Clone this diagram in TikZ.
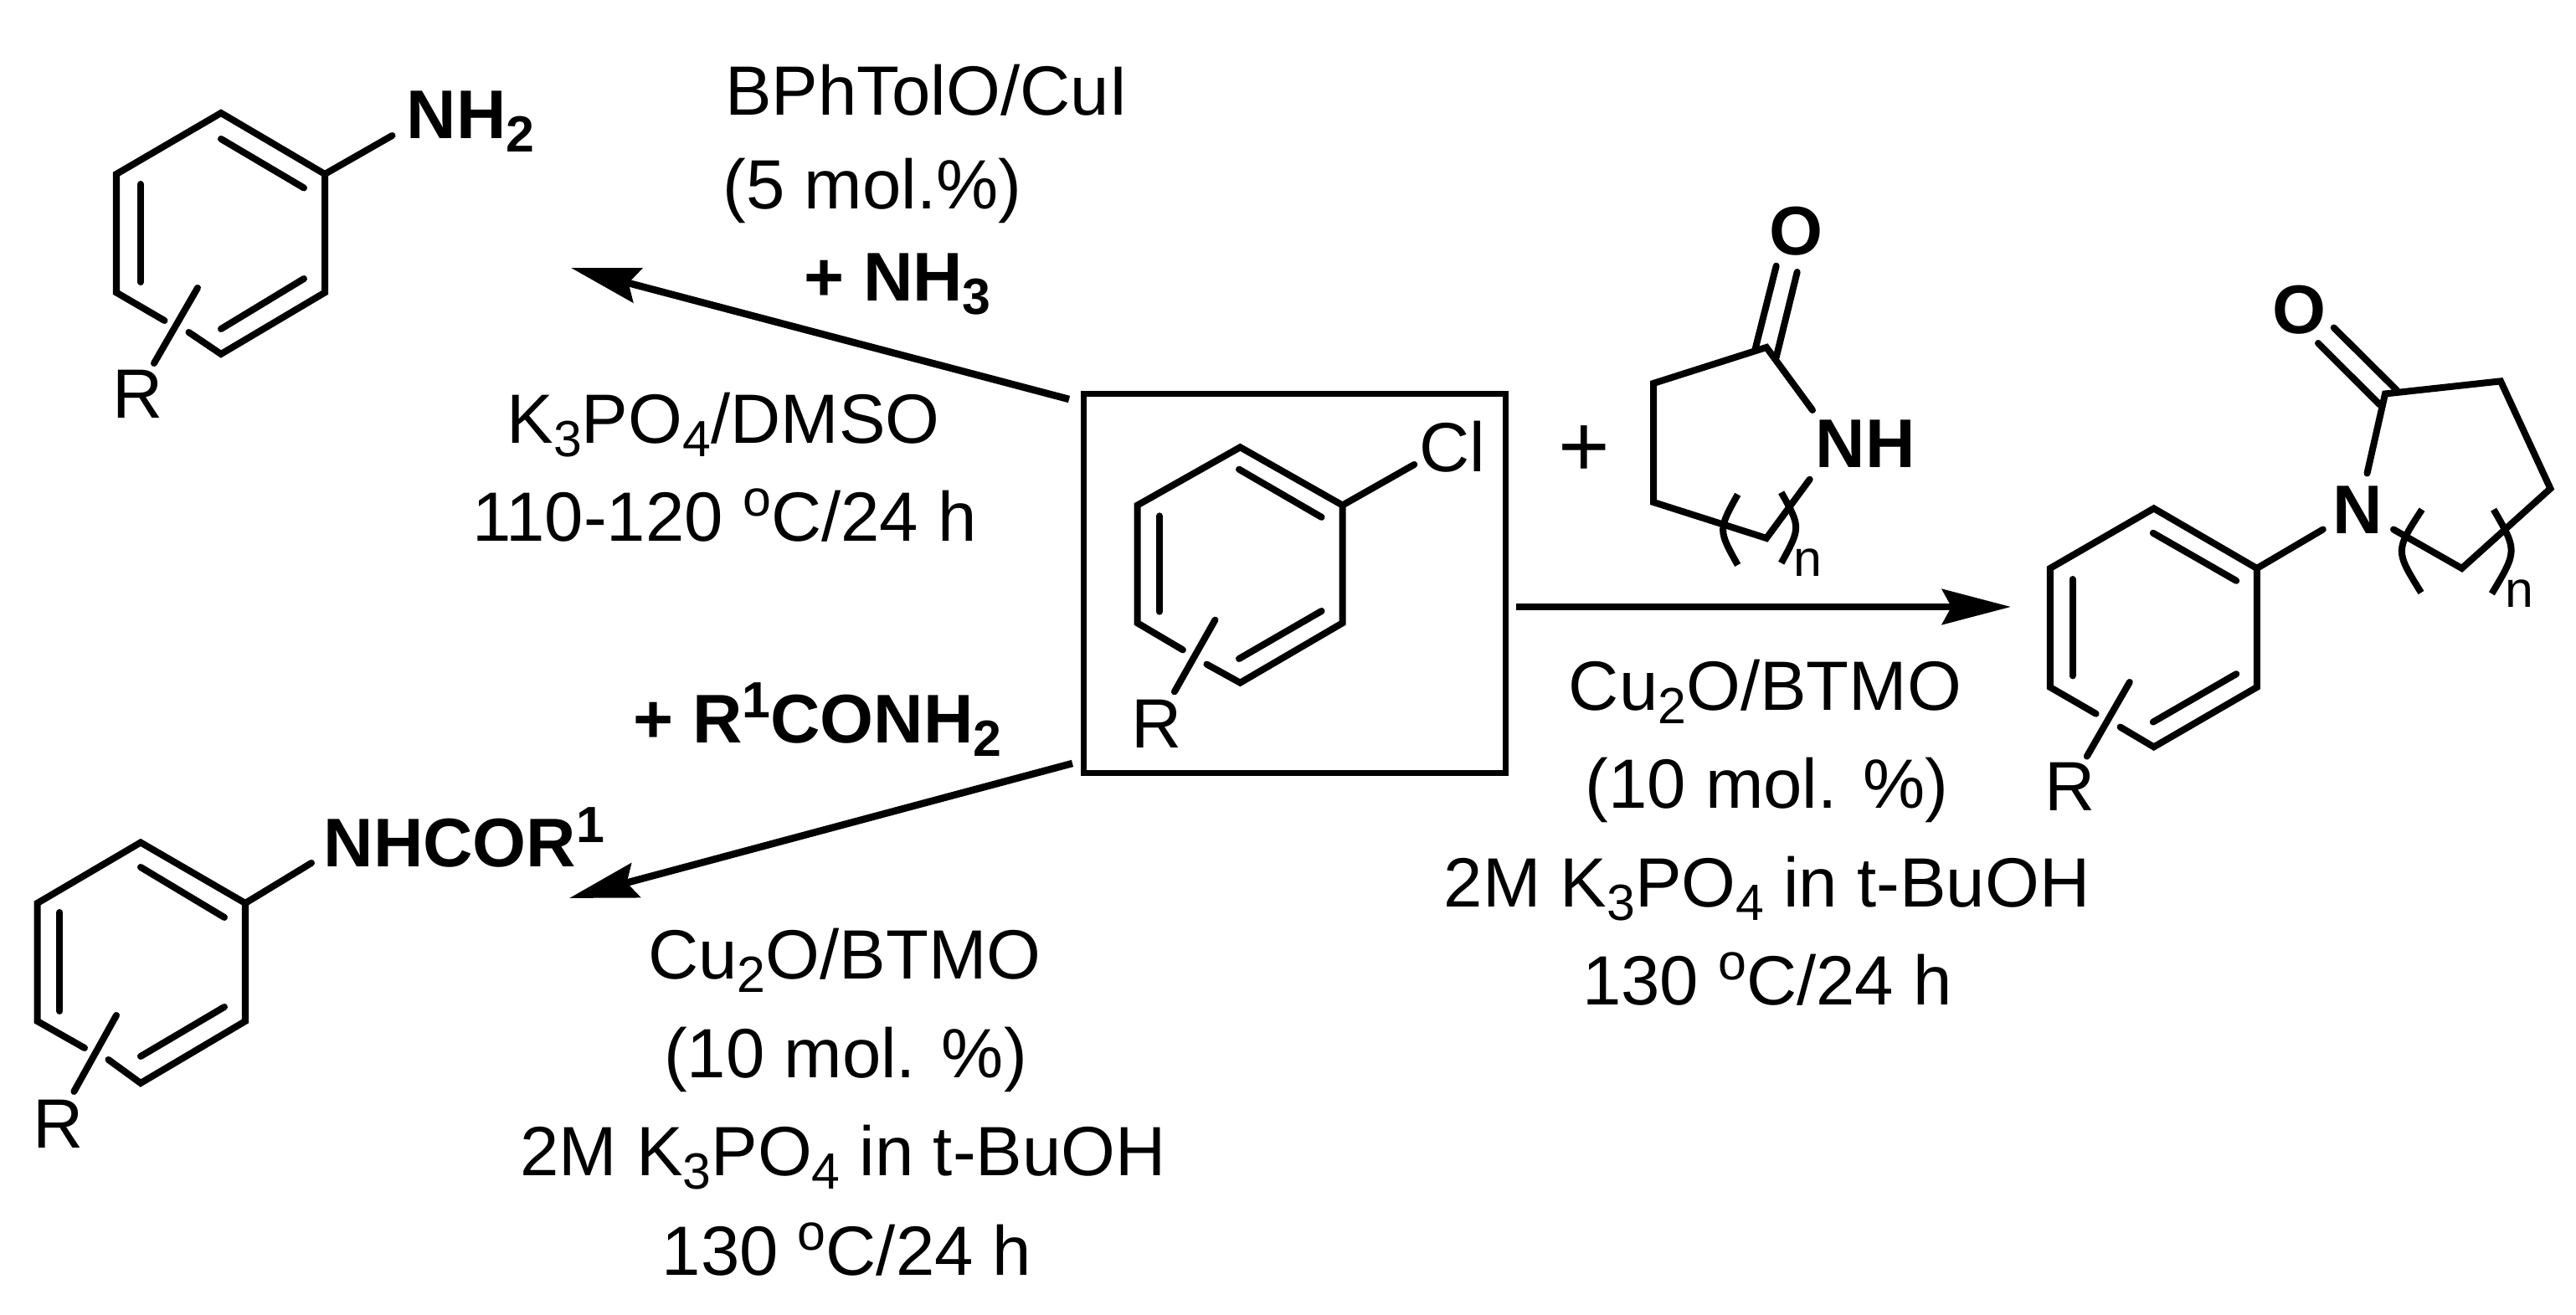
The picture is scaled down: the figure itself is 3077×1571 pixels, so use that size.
\documentclass[tikz,border=0pt]{standalone}
\usepackage{fontspec}
\setmainfont{Liberation Sans}
\usetikzlibrary{arrows.meta}
\newcommand{\subdigit}[1]{\raisebox{-.19em}{\fontsize{17.3}{20}\selectfont #1}}
\newcommand{\supdigit}[1]{\raisebox{.36em}{\fontsize{17.3}{20}\selectfont #1}}
\tikzset{
  bond/.style={line width=.08cm,line cap=round},
  rxn/.style={line width=.085cm,-{Stealth[length=.82cm,width=.42cm,inset=.11cm]}},
  lbl/.style={font=\fontsize{23.7}{28}\selectfont,anchor=base,inner sep=0pt},
  atom/.style={lbl,font=\fontsize{23.4}{28}\selectfont\bfseries},
  idx/.style={lbl,font=\fontsize{17.3}{20}\selectfont}
}
\begin{document}
\begin{tikzpicture}[x=.01cm,y=-.01cm]
    \useasboundingbox (0,0) rectangle (3077,1571);
    % starting material in its box
    \node[draw,line width=.075cm,minimum width=5.04cm,minimum height=4.53cm,inner sep=0pt] (cellbox) at (1546.5,697) {};
    \draw[bond] (1412.9,776.4)--(1358.6,744.3)--(1358.6,603.6)--(1481.4,534.3)--(1603.6,603.6)--(1603.6,744.3)--(1481.4,815.7)--(1441.4,793.6);
    \draw[bond] (1480,560.7)--(1578.6,617.9);
    \draw[bond] (1385,616.4)--(1385,730.7);
    \draw[bond] (1578.6,730)--(1480,787);
    \draw[bond] (1451.4,740.7)--(1402.9,826.4);
    \draw[bond] (1603.6,603.6)--(1689.3,555);
    \node[lbl] (clatom) at (1735,564) {Cl};
    \node[lbl] (rcell) at (1382,894) {R};
    % aniline, top left
    \draw[bond] (196.5,383)--(139,349.5)--(139,208)--(264,135)--(388,208)--(388,349.5)--(264,423)--(225.5,397);
    \draw[bond] (264,166)--(363,224.5);
    \draw[bond] (168,220)--(168,337);
    \draw[bond] (363,333)--(264,393);
    \draw[bond] (236,344)--(184,434);
    \draw[bond] (388,208)--(468.5,162);
    \node[atom,anchor=base west] (nhtwo) at (485,166) {NH\subdigit{2}};
    \node[lbl] (ranil) at (165,500) {R};
    % amide product, bottom left
    \draw[bond] (101,1252)--(44.6,1220)--(44.6,1079)--(168,1006.5)--(293,1079)--(293,1220)--(168,1294)--(129.5,1266);
    \draw[bond] (168,1036)--(268,1096);
    \draw[bond] (71.4,1090)--(71.4,1208);
    \draw[bond] (268,1203)--(168,1262);
    \draw[bond] (139,1213)--(88.4,1304);
    \draw[bond] (293,1079)--(372,1031);
    \node[atom,anchor=base west] (nhcor) at (386,1036) {NHCOR\supdigit{1}};
    \node[lbl] (ramid) at (70,1372) {R};
    % lactam reagent
    \draw[bond] (2165,490)--(2110,415)--(1975,458)--(1975,600)--(2110,643)--(2161.7,572.7);
    \draw[bond] (2121.7,317.7)--(2096.7,416.7);
    \draw[bond] (2146.7,325)--(2121.7,426.7);
    \draw[bond,line cap=butt] (2075.7,590.7) .. controls (2052.3,633) .. (2075.7,675);
    \draw[bond,line cap=butt] (2127.7,588.3) .. controls (2151,630) .. (2127.7,672.7);
    \node[atom] (olact) at (2145,305) {O};
    \node[atom,anchor=base west] (nhlact) at (2168,559) {NH};
    \node[idx] (nlact) at (2159,689) {n};
    \node[font=\fontsize{30}{32}\selectfont,inner sep=0pt] (plussign) at (1892,539) {+};
    % N-aryl lactam product
    \draw[bond] (2503.6,852.7)--(2448.8,821)--(2448.8,679)--(2572.7,607.4)--(2695.8,679)--(2695.8,821)--(2572.7,892.4)--(2532.6,868.6);
    \draw[bond] (2571.8,636.8)--(2671.2,693.8);
    \draw[bond] (2475.6,692)--(2475.6,807.4);
    \draw[bond] (2671.2,805.2)--(2571.8,862.6);
    \draw[bond] (2543.8,815)--(2492.8,903.6);
    \draw[bond] (2695.8,679)--(2774.8,632.5);
    \draw[bond] (2827.5,565.5)--(2849,470.5)--(2987,455.4)--(3046.4,583.7)--(2940.6,679)--(2859,632.5);
    \draw[bond] (2787.7,391.5)--(2862.9,466.2);
    \draw[bond] (2769,410)--(2842.6,483.5);
    \draw[bond,line cap=butt] (2893,608.7) .. controls (2861,658) .. (2892,708);
    \draw[bond,line cap=butt] (2978.6,608.7) .. controls (3007,658) .. (2976.4,709.3);
    \node[atom] (oprod) at (2746,399) {O};
    \node[atom] (nprod) at (2816,638) {N};
    \node[idx] (nprodidx) at (3009,726) {n};
    \node[lbl] (rprod) at (2473,969) {R};
    % arrows
    \coordinate (upstart) at (1277,477);
    \coordinate (uptip) at (682,320);
    \coordinate (downstart) at (1281,912);
    \coordinate (downtip) at (680,1073);
    \coordinate (rightstart) at (1810.7,725);
    \coordinate (righttip) at (2402,725);
    \draw[rxn] (upstart)--(uptip);
    \draw[rxn] (downstart)--(downtip);
    \draw[rxn] (rightstart)--(righttip);
    % conditions, top arrow
    \node[lbl] (bphtol) at (1107,138) {BPhTolO/CuI};
    \node[lbl] (fivemol) at (1042,250) {(5 mol.\%)};
    \node[atom] (nhthree) at (1072,360) {+ NH\subdigit{3}};
    \node[lbl] (kdmso) at (864,530) {K\subdigit{3}PO\subdigit{4}/DMSO};
    \node[lbl] (tempup) at (865.5,647) {110-120 \supdigit{o}C/24 h};
    % conditions, bottom arrow
    \node[atom] (amide) at (976.5,887.5) {+ R\supdigit{1}CONH\subdigit{2}};
    \node[lbl] (cubtmodown) at (1009,1170) {Cu\subdigit{2}O/BTMO};
    \node[lbl] (tenmoldown) at (1010,1288) {(10 mol. \%)};
    \node[lbl] (kbudown) at (1007,1405) {2M K\subdigit{3}PO\subdigit{4} in t-BuOH};
    \node[lbl] (tempdown) at (1011.5,1524) {130 \supdigit{o}C/24 h};
    % conditions, right arrow
    \node[lbl] (cubtmoright) at (2108.5,848.6) {Cu\subdigit{2}O/BTMO};
    \node[lbl] (tenmolright) at (2110.5,965.7) {(10 mol. \%)};
    \node[lbl] (kburight) at (2110.5,1084) {2M K\subdigit{3}PO\subdigit{4} in t-BuOH};
    \node[lbl] (tempright) at (2111,1201) {130 \supdigit{o}C/24 h};
\end{tikzpicture}
\end{document}
